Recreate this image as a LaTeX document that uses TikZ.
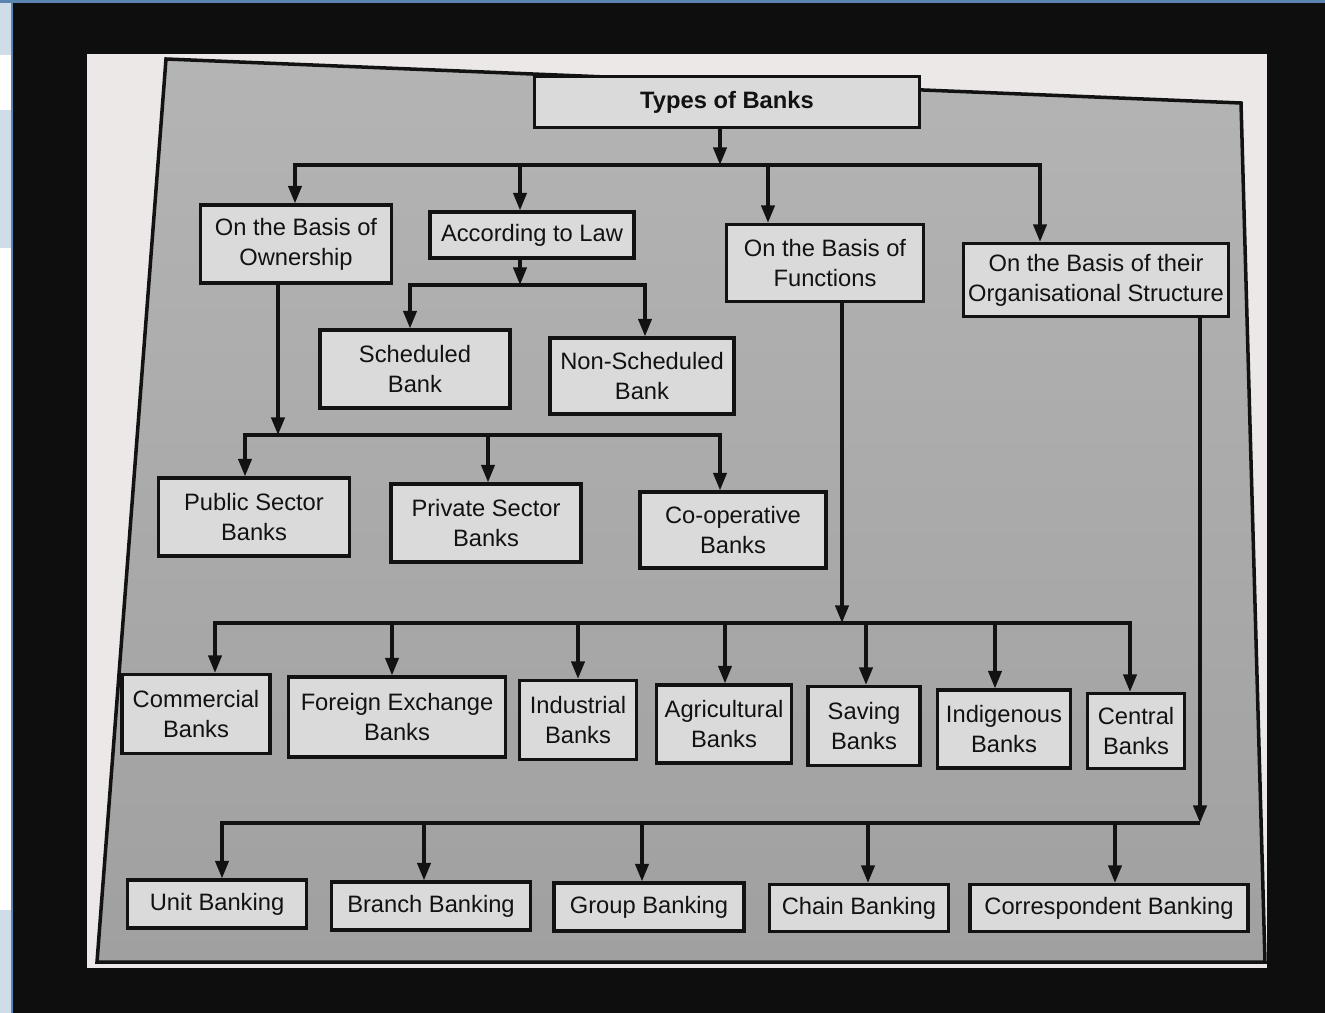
\documentclass[tikz,border=0pt]{standalone}
\usepackage{fontspec}
\setmainfont{Liberation Sans}
\usetikzlibrary{arrows.meta}

\definecolor{bgblack}{HTML}{0E0E0E}
\definecolor{paper}{HTML}{ECE8E8}
\definecolor{pagetop}{HTML}{B4B4B4}
\definecolor{pagebot}{HTML}{A0A0A0}
\definecolor{boxfill}{HTML}{DADADA}
\definecolor{ink}{HTML}{121212}
\definecolor{paleblue}{HTML}{CFDDE8}
\definecolor{edgeblue}{HTML}{5B85B0}

\begin{document}
\begin{tikzpicture}[x=0.02cm,y=-0.02cm,
    box/.style={draw=ink,fill=boxfill,line width=1.8pt,align=center,text=ink,
        inner sep=0pt,font=\fontsize{13.5}{17}\selectfont},
    conn/.style={draw=ink,line width=2pt},
    arr/.style={conn,-{Triangle[length=10pt,width=7.5pt]}}]

    % photo surroundings
    \fill[bgblack] (0,0) rectangle (1325,1013);
    \useasboundingbox (0,0) rectangle (1325,1013);
    \fill[paleblue] (0,0) rectangle (11,1013);
    \fill[white] (0,55) rectangle (11,110);
    \fill[white] (0,248) rectangle (11,910);
    \fill[edgeblue] (11,0) rectangle (13,1013);
    \fill[edgeblue] (0,0) rectangle (1325,3);
    \fill[paper] (87,54) rectangle (1267,968);
    \shade[top color=pagetop,bottom color=pagebot]
        (166,59) -- (1241,103) -- (1265,962) -- (97,962) -- cycle;
    \draw[ink,line width=2pt]
        (166,59) -- (1241,103) -- (1265,962) -- (97,962) -- cycle;

    % boxes
    \node[box,minimum width=7.7cm,minimum height=1.02cm,
        font=\fontsize{13.5}{16}\selectfont\bfseries] (types) at (727,102) {Types of Banks};

    \node[box,minimum width=3.82cm,minimum height=1.56cm] (own) at (296,244) {On the Basis of\\Ownership};
    \node[box,minimum width=4.08cm,minimum height=0.92cm] (law) at (532,235) {According to Law};
    \node[box,minimum width=3.94cm,minimum height=1.54cm] (func) at (825,263) {On the Basis of\\Functions};
    \node[box,minimum width=5.3cm,minimum height=1.46cm] (org) at (1096,280) {On the Basis of their\\Organisational Structure};

    \node[box,minimum width=3.8cm,minimum height=1.56cm] (sched) at (415,369) {Scheduled\\Bank};
    \node[box,minimum width=3.68cm,minimum height=1.52cm] (nonsched) at (642,376) {Non-Scheduled\\Bank};

    \node[box,minimum width=3.82cm,minimum height=1.56cm] (public) at (254,517) {Public Sector\\Banks};
    \node[box,minimum width=3.8cm,minimum height=1.56cm] (private) at (486,523) {Private Sector\\Banks};
    \node[box,minimum width=3.72cm,minimum height=1.52cm] (coop) at (733,530) {Co-operative\\Banks};

    \node[box,minimum width=2.96cm,minimum height=1.58cm] (comm) at (196,714) {Commercial\\Banks};
    \node[box,minimum width=4.34cm,minimum height=1.6cm] (forex) at (397,717) {Foreign Exchange\\Banks};
    \node[box,minimum width=2.34cm,minimum height=1.58cm] (indus) at (578,720) {Industrial\\Banks};
    \node[box,minimum width=2.7cm,minimum height=1.56cm] (agri) at (724,724) {Agricultural\\Banks};
    \node[box,minimum width=2.24cm,minimum height=1.58cm] (saving) at (864,726) {Saving\\Banks};
    \node[box,minimum width=2.66cm,minimum height=1.56cm] (indig) at (1004,729) {Indigenous\\Banks};
    \node[box,minimum width=1.94cm,minimum height=1.5cm] (central) at (1136,731) {Central\\Banks};

    \node[box,minimum width=3.58cm,minimum height=0.96cm] (unit) at (217,904) {Unit Banking};
    \node[box,minimum width=3.98cm,minimum height=0.96cm] (branch) at (431,906) {Branch Banking};
    \node[box,minimum width=3.8cm,minimum height=0.96cm] (group) at (649,907) {Group Banking};
    \node[box,minimum width=3.58cm,minimum height=0.94cm] (chain) at (859,908) {Chain Banking};
    \node[box,minimum width=5.56cm,minimum height=0.94cm] (corr) at (1109,908) {Correspondent Banking};

    % junctions
    \coordinate (J1) at (720,165);
    \coordinate (A1) at (295,165);
    \coordinate (A2) at (520,165);
    \coordinate (A3) at (768,165);
    \coordinate (A4) at (1040,165);

    \coordinate (J2) at (520,285);
    \coordinate (B1) at (410,285);
    \coordinate (B2) at (645,285);

    \coordinate (J3) at (278,435);
    \coordinate (C1) at (245,435);
    \coordinate (C2) at (488,435);
    \coordinate (C3) at (720,435);

    \coordinate (J4) at (842,623);
    \coordinate (D1) at (215,623);
    \coordinate (D2) at (392,623);
    \coordinate (D3) at (578,623);
    \coordinate (D4) at (725,623);
    \coordinate (D5) at (866,623);
    \coordinate (D6) at (995,623);
    \coordinate (D7) at (1130,623);

    \coordinate (J5) at (1200,823);
    \coordinate (E1) at (222,823);
    \coordinate (E2) at (424,823);
    \coordinate (E3) at (642,823);
    \coordinate (E4) at (868,823);
    \coordinate (E5) at (1115,823);

    % connectors
    \draw[arr] (types.south -| J1) -- (J1);
    \draw[arr] (J1) -| (own.north -| A1);
    \draw[arr] (A2) -- (law.north -| A2);
    \draw[arr] (A3) -- (func.north -| A3);
    \draw[arr] (J1) -| (org.north -| A4);

    \draw[arr] (law.south -| J2) -- (J2);
    \draw[arr] (J2) -| (sched.north -| B1);
    \draw[arr] (J2) -| (nonsched.north -| B2);

    \draw[arr] (own.south -| J3) -- (J3);
    \draw[arr] (J3) -| (public.north -| C1);
    \draw[arr] (J3) -| (private.north -| C2);
    \draw[arr] (C2) -| (coop.north -| C3);

    \draw[arr] (func.south -| J4) -- (J4);
    \draw[arr] (J4) -| (comm.north -| D1);
    \draw[arr] (D2) -- (forex.north -| D2);
    \draw[arr] (D3) -- (indus.north -| D3);
    \draw[arr] (D4) -- (agri.north -| D4);
    \draw[arr] (D5) -- (saving.north -| D5);
    \draw[arr] (D6) -- (indig.north -| D6);
    \draw[arr] (J4) -| (central.north -| D7);

    \draw[arr] (org.south -| J5) -- (J5);
    \draw[arr] (J5) -| (unit.north -| E1);
    \draw[arr] (E2) -- (branch.north -| E2);
    \draw[arr] (E3) -- (group.north -| E3);
    \draw[arr] (E4) -- (chain.north -| E4);
    \draw[arr] (E5) -- (corr.north -| E5);

\end{tikzpicture}
\end{document}
